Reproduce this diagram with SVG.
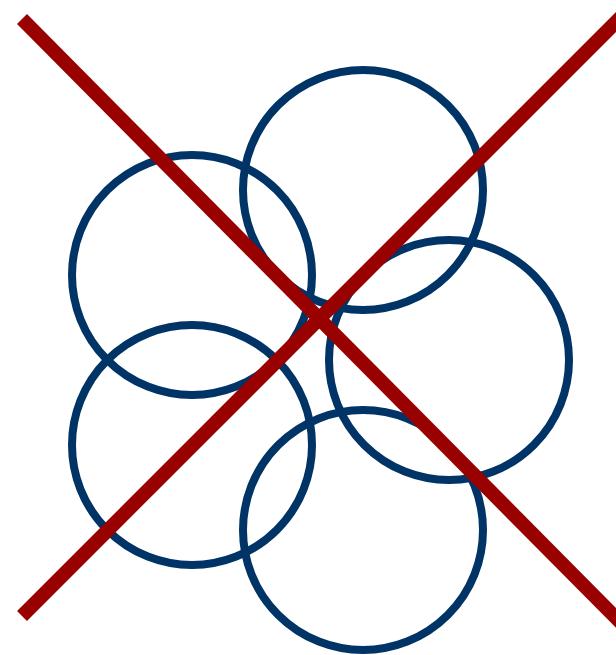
<svg xmlns="http://www.w3.org/2000/svg" width="616" height="655" viewBox="0 0 616 655">
<style>
.c{fill:none;stroke:#003366;stroke-width:8}
.x{stroke:#990000;stroke-width:14;stroke-linecap:butt}
</style>
<rect width="616" height="655" fill="#ffffff"/>
<g id="circle-top"><circle class="c" cx="363" cy="190" r="120"/></g>
<g id="circle-left-upper"><circle class="c" cx="192" cy="275" r="120"/></g>
<g id="circle-right"><circle class="c" cx="449" cy="360" r="120"/></g>
<g id="circle-left-lower"><circle class="c" cx="192" cy="445" r="120"/></g>
<g id="circle-bottom"><circle class="c" cx="363" cy="530" r="120"/></g>
<g id="connectors">
<line class="x" x1="22" y1="19" x2="630" y2="632"/>
<line class="x" x1="22" y1="616" x2="630" y2="8"/>
</g>
</svg>
